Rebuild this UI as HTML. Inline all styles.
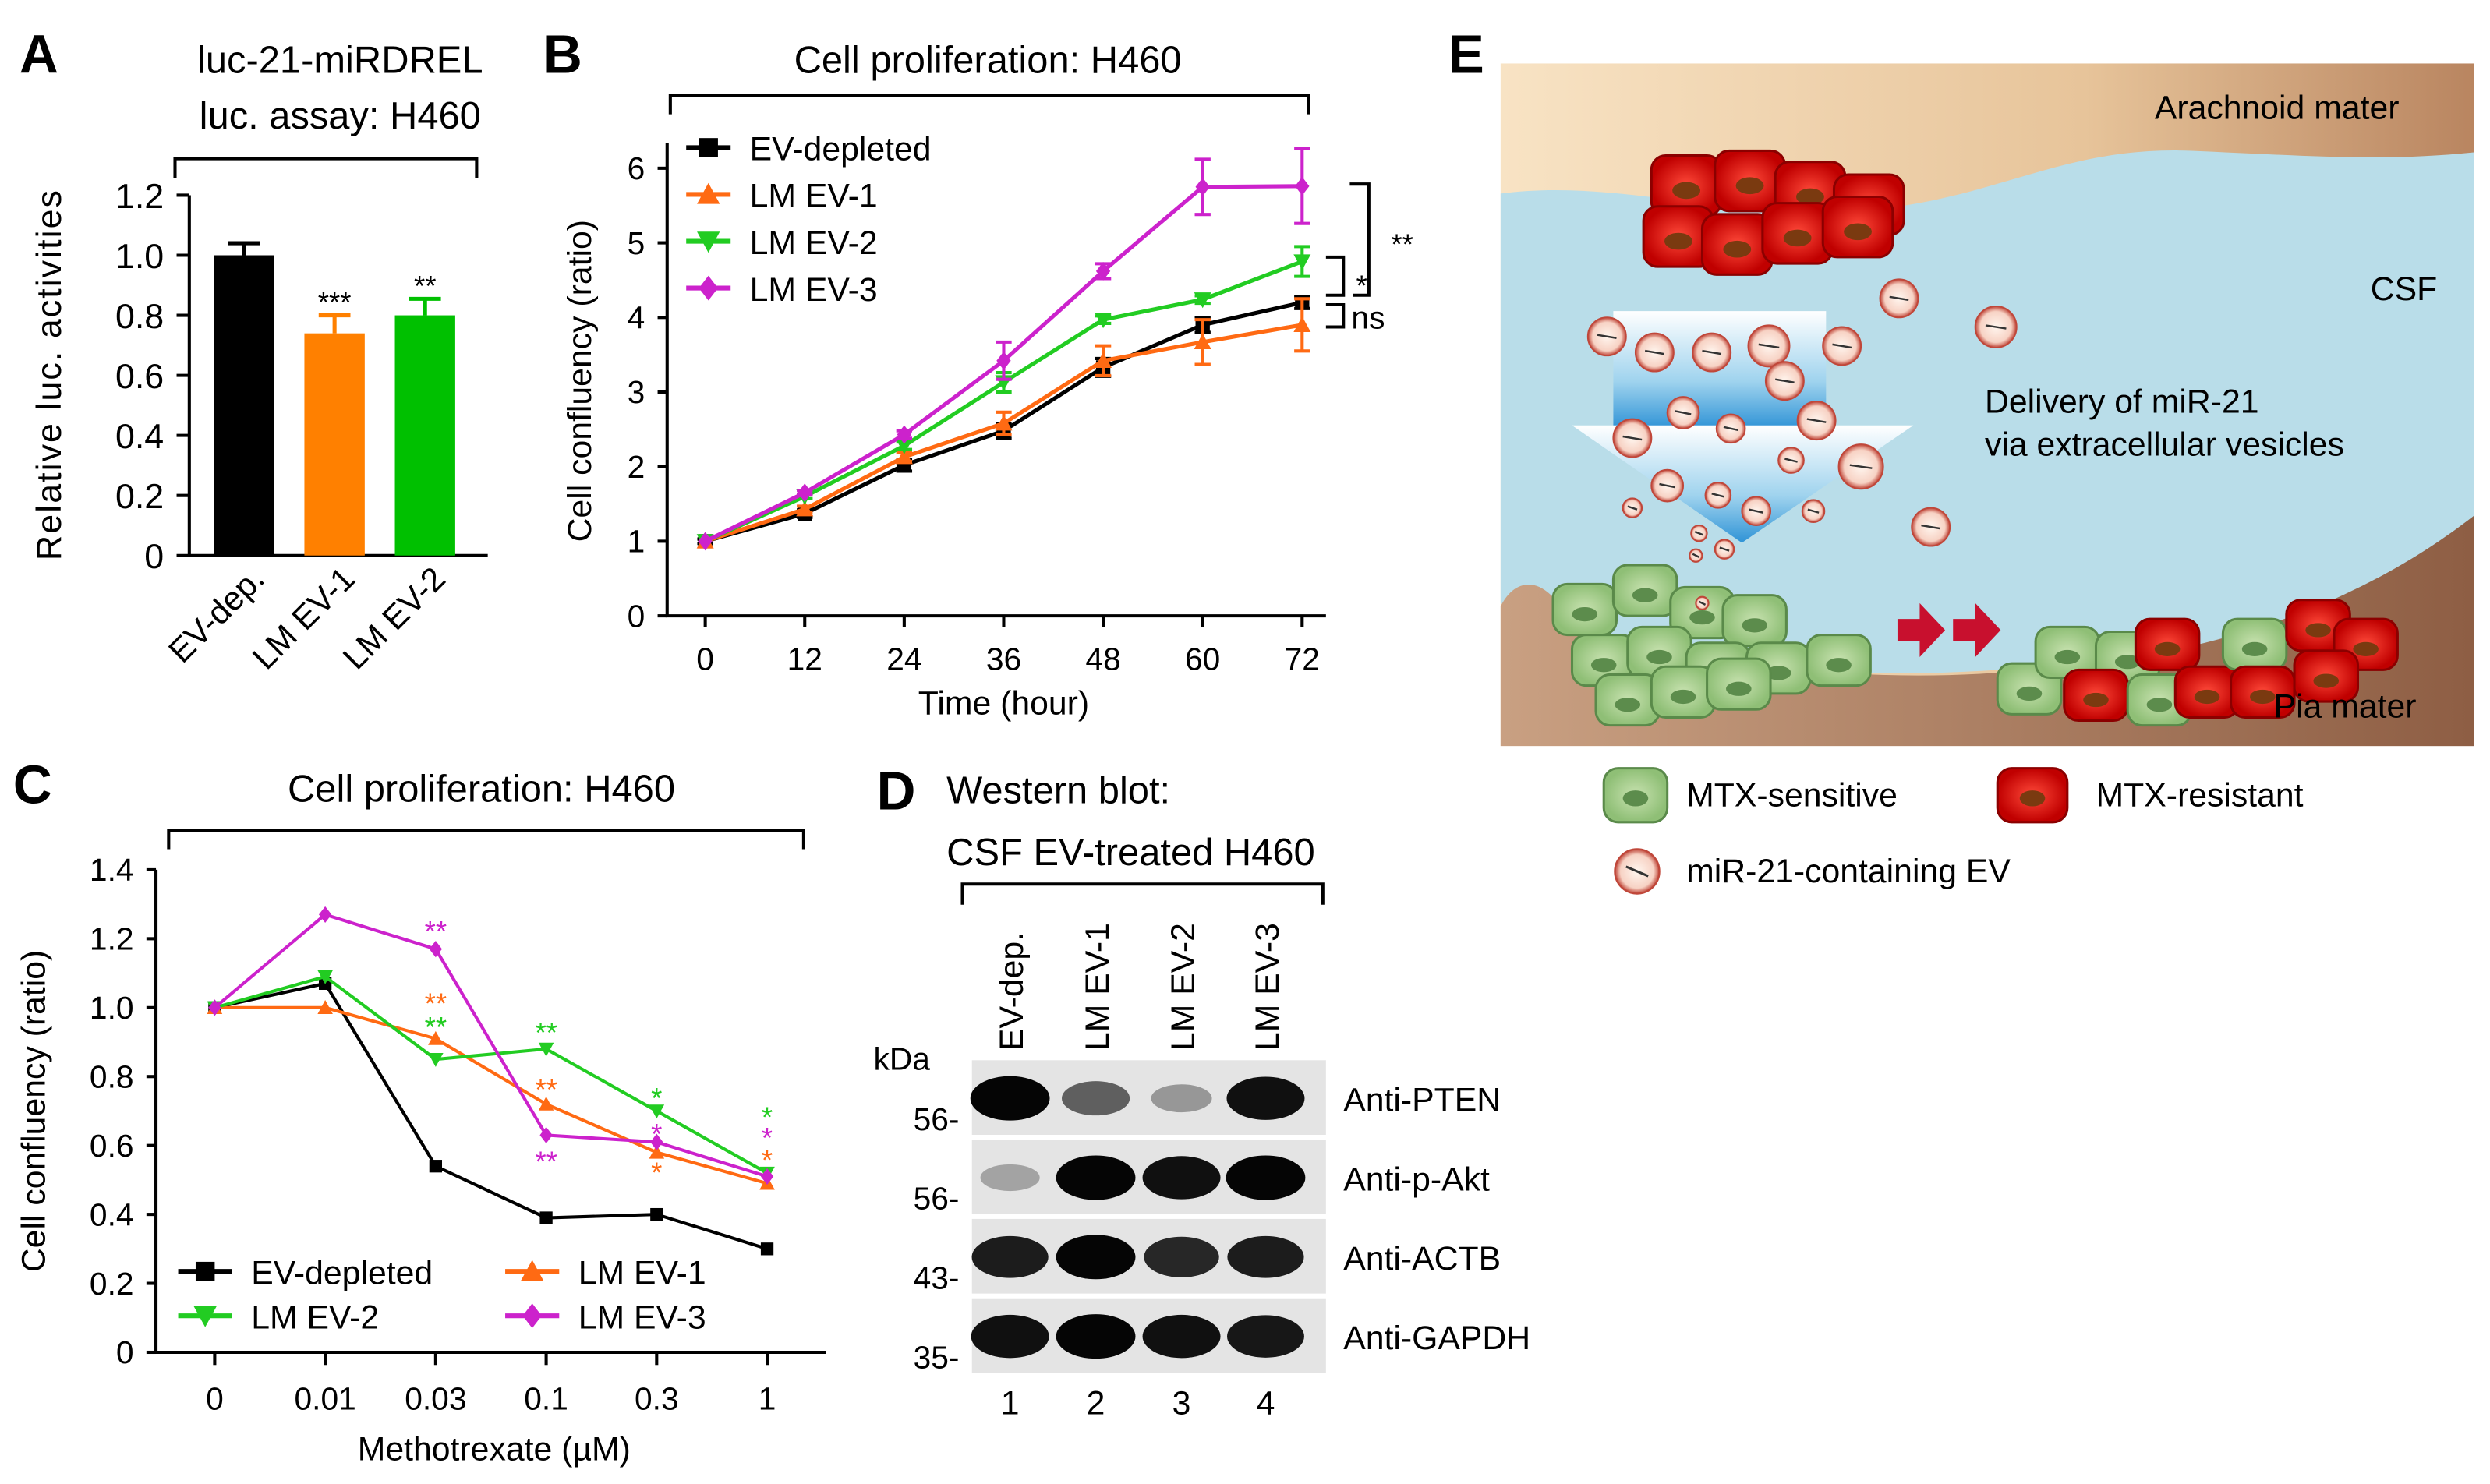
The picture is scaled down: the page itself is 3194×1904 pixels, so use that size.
<!DOCTYPE html>
<html><head><meta charset="utf-8"><style>
html,body{margin:0;padding:0;background:#fff}
svg{display:block;font-family:"Liberation Sans",Arial,sans-serif}
</style></head><body>
<svg id="fig" width="3194" height="1904" viewBox="0 0 1568 935" xmlns="http://www.w3.org/2000/svg">
<defs>
<linearGradient id="bgTop" x1="0" y1="0" x2="1" y2="0"><stop offset="0" stop-color="#f8e3c4"/><stop offset="0.6" stop-color="#e7c49a"/><stop offset="1" stop-color="#b98560"/></linearGradient>
<linearGradient id="pia" x1="0" y1="0" x2="1" y2="0"><stop offset="0" stop-color="#c9a082"/><stop offset="1" stop-color="#8e5e44"/></linearGradient>
<linearGradient id="arrowG" x1="0" y1="0" x2="0" y2="1"><stop offset="0" stop-color="#ffffff"/><stop offset="0.6" stop-color="#9fd3ee"/><stop offset="1" stop-color="#2f93d6"/></linearGradient>
<radialGradient id="evG"><stop offset="0" stop-color="#fff6ef"/><stop offset="0.75" stop-color="#f7d2c4"/><stop offset="1" stop-color="#c0473a"/></radialGradient>
<radialGradient id="redC"><stop offset="0" stop-color="#ff4a3a"/><stop offset="1" stop-color="#c00000"/></radialGradient>
<radialGradient id="grnC"><stop offset="0" stop-color="#c8e2b0"/><stop offset="1" stop-color="#8fbf76"/></radialGradient>
</defs>

<!-- Panel A -->
<g>
<text x="12" y="46" font-size="34" font-weight="bold">A</text>
<text x="214" y="46" font-size="24" text-anchor="middle">luc-21-miRDREL</text>
<text x="214" y="81" font-size="24" text-anchor="middle">luc. assay: H460</text>
<path d="M110,112 V100 H300 V112" fill="none" stroke="#000" stroke-width="2"/>
<g id="chartA"></g>
</g>

<!-- Panel B -->
<g>
<text x="342" y="46" font-size="34" font-weight="bold">B</text>
<text x="622" y="46" font-size="24" text-anchor="middle">Cell proliferation: H460</text>
<path d="M422,72 V60 H824 V72" fill="none" stroke="#000" stroke-width="2"/>
<g id="chartB"></g>
</g>

<!-- Panel C -->
<g>
<text x="8" y="506" font-size="34" font-weight="bold">C</text>
<text x="303" y="505" font-size="24" text-anchor="middle">Cell proliferation: H460</text>
<path d="M106,535 V523 H506 V535" fill="none" stroke="#000" stroke-width="2"/>
<g id="chartC"></g>
</g>

<!-- Panel D -->
<g>
<text x="552" y="510" font-size="34" font-weight="bold">D</text>
<text x="596" y="506" font-size="24">Western blot:</text>
<text x="596" y="545" font-size="24">CSF EV-treated H460</text>
<path d="M606,570 V557 H833 V570" fill="none" stroke="#000" stroke-width="2"/>
<g font-size="21">
<text transform="translate(644,662) rotate(-90)">EV-dep.</text>
<text transform="translate(698,662) rotate(-90)">LM EV-1</text>
<text transform="translate(752,662) rotate(-90)">LM EV-2</text>
<text transform="translate(805,662) rotate(-90)">LM EV-3</text>
</g>
<text x="550" y="674" font-size="20">kDa</text>
<g id="blots"></g>
<g font-size="21" text-anchor="middle">
<text x="636" y="891">1</text>
<text x="690" y="891">2</text>
<text x="744" y="891">3</text>
<text x="797" y="891">4</text>
</g>
</g>

<!-- Panel E -->
<g>
<text x="912" y="46" font-size="34" font-weight="bold">E</text>
<rect x="945" y="40" width="613" height="430" fill="url(#bgTop)"/>
<path d="M945,122 C1020,112 1090,140 1180,132 C1260,124 1300,92 1380,95 C1450,98 1500,102 1558,96 L1558,330 C1500,380 1440,410 1300,418 C1200,430 1100,425 990,398 L945,380 Z" fill="#b9dde9"/>
<path d="M945,470 L945,382 C955,362 975,362 990,395 C1100,425 1200,432 1300,420 C1420,408 1500,370 1558,325 L1558,470 Z" fill="url(#pia)"/>
<g>
<rect x="1016" y="196" width="134" height="74" fill="url(#arrowG)"/>
<path d="M990,268 L1205,268 L1097,342 Z" fill="url(#arrowG)"/>
</g>
<g id="cellsE"></g>
<g id="evsE"></g>
<path d="M1195,390 h14 v-10 l16,17 l-16,17 v-10 h-14 Z M1230,390 h14 v-10 l16,17 l-16,17 v-10 h-14 Z" fill="#c8102e"/>
<g font-size="21">
<text x="1357" y="75">Arachnoid mater</text>
<text x="1493" y="189">CSF</text>
<text x="1250" y="260">Delivery of miR-21</text>
<text x="1250" y="287">via extracellular vesicles</text>
<text x="1432" y="452">Pia mater</text>
<text x="1062" y="508">MTX-sensitive</text>
<text x="1320" y="508">MTX-resistant</text>
<text x="1062" y="556">miR-21-containing EV</text>
</g>
<g id="legendIcons"></g>
</g>
</svg>
<script>
// ---- Panel A data ----
const catsA = ["EV-dep.", "LM EV-1", "LM EV-2"];
const valsA = [1.0, 0.74, 0.80];
const errA = [0.04, 0.06, 0.055];
const sigA = ["", "***", "**"];
const colorsA = ["#000000", "#ff8000", "#00c000"];
const ticksA = [0, 0.2, 0.4, 0.6, 0.8, 1.0, 1.2];
const tickLabelsA = ["0", "0.2", "0.4", "0.6", "0.8", "1.0", "1.2"];

// ---- Panel B data ----
const hoursB = [0, 12, 24, 36, 48, 60, 72];
const ticksB = [0, 1, 2, 3, 4, 5, 6];
const namesB = ["EV-depleted", "LM EV-1", "LM EV-2", "LM EV-3"];
const evDepB = [1, 1.37, 2.02, 2.48, 3.33, 3.9, 4.2];
const lmEv1B = [1, 1.43, 2.13, 2.58, 3.42, 3.67, 3.9];
const lmEv2B = [1, 1.6, 2.28, 3.13, 3.97, 4.24, 4.75];
const lmEv3B = [1, 1.65, 2.43, 3.42, 4.62, 5.75, 5.76];
const evDepErrB = [0.03, 0.05, 0.08, 0.1, 0.12, 0.1, 0.08];
const lmEv1ErrB = [0, 0.04, 0.06, 0.15, 0.2, 0.3, 0.35];
const lmEv2ErrB = [0, 0.03, 0.05, 0.13, 0.05, 0.05, 0.2];
const lmEv3ErrB = [0, 0.03, 0.05, 0.25, 0.1, 0.37, 0.5];

// ---- Panel C data ----
const dosesC = ["0", "0.01", "0.03", "0.1", "0.3", "1"];
const ticksC = [0, 0.2, 0.4, 0.6, 0.8, 1.0, 1.2, 1.4];
const tickLabelsC = ["0", "0.2", "0.4", "0.6", "0.8", "1.0", "1.2", "1.4"];
const evDepC = [1, 1.07, 0.54, 0.39, 0.40, 0.30];
const lmEv1C = [1, 1.0, 0.91, 0.72, 0.58, 0.49];
const lmEv2C = [1, 1.09, 0.85, 0.88, 0.70, 0.52];
const lmEv3C = [1, 1.27, 1.17, 0.63, 0.61, 0.51];
const starIdxC = [2, 2, 2, 3, 3, 3, 4, 4, 4, 5, 5, 5];
const starSerC = [3, 1, 2, 2, 1, 3, 2, 3, 1, 2, 3, 1];
const starTxtC = ["**", "**", "**", "**", "**", "**", "*", "*", "*", "*", "*", "*"];

// ---- Panel D data (band intensities 0..1) ----
const blotNames = ["Anti-PTEN", "Anti-p-Akt", "Anti-ACTB", "Anti-GAPDH"];
const blotMarkers = ["56", "56", "43", "35"];
const pten = [1.0, 0.6, 0.35, 0.95];
const pakt = [0.3, 1.0, 0.95, 1.0];
const actb = [0.9, 1.0, 0.85, 0.9];
const gapdh = [0.95, 1.0, 0.95, 0.92];

const NS = "http://www.w3.org/2000/svg";
function mk(parent, tag, attrs, text) {
  const e = document.createElementNS(NS, tag);
  for (const k in attrs) e.setAttribute(k, attrs[k]);
  if (text !== undefined) e.textContent = text;
  parent.appendChild(e);
  return e;
}
function marker(g, shape, x, y, s, color) {
  let e;
  if (shape === "square") e = mk(g, "rect", {x: x - s, y: y - s, width: 2 * s, height: 2 * s, fill: color});
  else if (shape === "up") e = mk(g, "path", {d: `M${x},${y - s * 1.2} L${x + s * 1.2},${y + s} L${x - s * 1.2},${y + s} Z`, fill: color});
  else if (shape === "down") e = mk(g, "path", {d: `M${x},${y + s * 1.2} L${x + s * 1.2},${y - s} L${x - s * 1.2},${y - s} Z`, fill: color});
  else e = mk(g, "path", {d: `M${x},${y - s * 1.3} L${x + s},${y} L${x},${y + s * 1.3} L${x - s},${y} Z`, fill: color});
  return e;
}

// ===== Panel A =====
(function () {
  const g = document.getElementById("chartA");
  const yA = v => 350 - v / 1.2 * 227;
  const xA = i => 153.5 + i * 57;
  mk(g, "path", {d: "M119,123 V350 H307", fill: "none", stroke: "#000", "stroke-width": 2});
  ticksA.forEach((t, i) => {
    mk(g, "line", {x1: 111, x2: 119, y1: yA(t), y2: yA(t), stroke: "#000", "stroke-width": 2});
    const tl = mk(g, "text", {x: 103, y: yA(t) + 8, "font-size": 22, "text-anchor": "end"}, tickLabelsA[i]);
    
    
  });
  valsA.forEach((v, i) => {
    const cx = xA(i);
    const c = colorsA[i];
    mk(g, "line", {x1: cx, x2: cx, y1: yA(v), y2: yA(v + errA[i]), stroke: c, "stroke-width": 2.5});
    mk(g, "line", {x1: cx - 10, x2: cx + 10, y1: yA(v + errA[i]), y2: yA(v + errA[i]), stroke: c, "stroke-width": 2.5});
    const b = mk(g, "rect", {x: cx - 19, y: yA(v), width: 38, height: 350 - yA(v), fill: c});
    
    
    if (sigA[i]) {
      const s = mk(g, "text", {x: cx, y: yA(v + errA[i]) - 2, "font-size": 18, "text-anchor": "middle"}, sigA[i]);
      
      
    }
    const l = mk(g, "text", {transform: `translate(${cx + 14},${366}) rotate(-45)`, "font-size": 21, "text-anchor": "end"}, catsA[i]);
    
    
  });
  const yt = mk(g, "text", {transform: "translate(38,236) rotate(-90)", "font-size": 22, "text-anchor": "middle", "letter-spacing": "1"}, "Relative luc. activities");
  
  
})();

// ===== Panel B =====
(function () {
  const g = document.getElementById("chartB");
  const xB = h => 444 + h / 72 * 376;
  const yB = v => 388 - v / 6 * 282;
  mk(g, "path", {d: "M420,90 V388 H835", fill: "none", stroke: "#000", "stroke-width": 2});
  ticksB.forEach(t => {
    mk(g, "line", {x1: 414, x2: 420, y1: yB(t), y2: yB(t), stroke: "#000", "stroke-width": 2});
    const tl = mk(g, "text", {x: 406, y: yB(t) + 7, "font-size": 20, "text-anchor": "end"}, String(t));
    
    
  });
  hoursB.forEach(h => {
    mk(g, "line", {x1: xB(h), x2: xB(h), y1: 388, y2: 395, stroke: "#000", "stroke-width": 2});
    const tl = mk(g, "text", {x: xB(h), y: 422, "font-size": 20, "text-anchor": "middle"}, String(h));
    
    
  });
  const xt = mk(g, "text", {x: 632, y: 450, "font-size": 21, "text-anchor": "middle"}, "Time (hour)");
  
  
  const yt = mk(g, "text", {transform: "translate(372,240) rotate(-90)", "font-size": 21, "text-anchor": "middle"}, "Cell confluency (ratio)");
  
  
  const series = [[evDepB, evDepErrB, "#000000", "square"], [lmEv1B, lmEv1ErrB, "#ff6a13", "up"], [lmEv2B, lmEv2ErrB, "#22cc22", "down"], [lmEv3B, lmEv3ErrB, "#cc22cc", "diamond"]];
  series.forEach((s, si) => {
    const [vals, errs, c, shp] = s;
    const line = mk(g, "polyline", {points: vals.map((v, i) => `${xB(hoursB[i])},${yB(v)}`).join(" "), fill: "none", stroke: c, "stroke-width": 2.5});
    
    
    vals.forEach((v, i) => {
      const x = xB(hoursB[i]);
      if (errs[i] > 0) {
        mk(g, "path", {d: `M${x},${yB(v - errs[i])} V${yB(v + errs[i])} M${x - 5},${yB(v - errs[i])} H${x + 5} M${x - 5},${yB(v + errs[i])} H${x + 5}`, stroke: c, "stroke-width": 2, fill: "none"});
      }
      const m = marker(g, shp, x, yB(v), 4.5, c);
      
      
    });
    const ly = 93 + si * 29.5;
    mk(g, "line", {x1: 432, x2: 460, y1: ly, y2: ly, stroke: c, "stroke-width": 3});
    marker(g, shp, 446, ly, 6, c);
    const lt = mk(g, "text", {x: 472, y: ly + 8, "font-size": 21}, namesB[si]);
    
    
  });
  mk(g, "path", {d: "M835,162 H846 V186 H835 M850,116 H862 V186 H852 M835,192 H846 V206 H835", fill: "none", stroke: "#000", "stroke-width": 2});
  const s1 = mk(g, "text", {x: 876, y: 160, "font-size": 18}, "**");
  
  
  const s2 = mk(g, "text", {x: 854, y: 186, "font-size": 18}, "*");
  
  
  const s3 = mk(g, "text", {x: 851, y: 207, "font-size": 20}, "ns");
  
  
})();

// ===== Panel C =====
(function () {
  const g = document.getElementById("chartC");
  const xC = i => 135 + i * 69.6;
  const yC = v => 852 - v / 1.4 * 304;
  mk(g, "path", {d: "M98,548 V852 H520", fill: "none", stroke: "#000", "stroke-width": 2});
  ticksC.forEach((t, i) => {
    mk(g, "line", {x1: 92, x2: 98, y1: yC(t), y2: yC(t), stroke: "#000", "stroke-width": 2});
    const tl = mk(g, "text", {x: 84, y: yC(t) + 7, "font-size": 20, "text-anchor": "end"}, tickLabelsC[i]);
    
    
  });
  dosesC.forEach((d, i) => {
    mk(g, "line", {x1: xC(i), x2: xC(i), y1: 852, y2: 860, stroke: "#000", "stroke-width": 2});
    const tl = mk(g, "text", {x: xC(i), y: 888, "font-size": 20, "text-anchor": "middle"}, d);
    
    
  });
  const xt = mk(g, "text", {x: 311, y: 920, "font-size": 21, "text-anchor": "middle"}, "Methotrexate (µM)");
  
  
  const yt = mk(g, "text", {transform: "translate(28,700) rotate(-90)", "font-size": 21, "text-anchor": "middle"}, "Cell confluency (ratio)");
  
  
  const series = [[evDepC, "#000000", "square"], [lmEv1C, "#ff6a13", "up"], [lmEv2C, "#22cc22", "down"], [lmEv3C, "#cc22cc", "diamond"]];
  series.forEach((s, si) => {
    const [vals, c, shp] = s;
    const line = mk(g, "polyline", {points: vals.map((v, i) => `${xC(i)},${yC(v)}`).join(" "), fill: "none", stroke: c, "stroke-width": 2});
    
    
    vals.forEach((v, i) => {
      const m = marker(g, shp, xC(i), yC(v), 4, c);
      
      
    });
    const lx = si % 2 === 0 ? 112 : 318;
    const ly = si < 2 ? 801 : 829;
    mk(g, "line", {x1: lx, x2: lx + 34, y1: ly, y2: ly, stroke: c, "stroke-width": 3});
    marker(g, shp, lx + 17, ly, 6, c);
    const lt = mk(g, "text", {x: lx + 46, y: ly + 8, "font-size": 21}, namesB[si]);
    
    
  });
  // significance stars: vertical offset from the series point (px, layout only)
  const starOff = [-15, -26, -24, -14, -13, 13, -12, -9, 9, -39, -26, -12];
  const starRef = [3, 1, 2, 2, 1, 3, 2, 3, 1, 2, 2, 2];
  const cols = ["#000000", "#ff6a13", "#22cc22", "#cc22cc"];
  starIdxC.forEach((idx, k) => {
    const refVals = series[starRef[k]][0];
    const cy = yC(refVals[idx]) + starOff[k];
    const t = mk(g, "text", {x: xC(idx), y: cy + 10, "font-size": 18, fill: cols[starSerC[k]], "text-anchor": "middle"}, starTxtC[k]);
    
    
  });
})();

// ===== Panel D blots =====
(function () {
  const g = document.getElementById("blots");
  const rows = [pten, pakt, actb, gapdh];
  const lanes = [636, 690, 744, 797];
  rows.forEach((r, ri) => {
    const y0 = 668 + ri * 50;
    const bg = mk(g, "rect", {x: 612, y: y0, width: 223, height: 47, fill: "#e4e4e4"});
    
    
    r.forEach((v, li) => {
      const gray = Math.round(230 - v * 225);
      const b = mk(g, "ellipse", {cx: lanes[li], cy: y0 + 24, rx: 16 + v * 9, ry: 6 + v * 8, fill: `rgb(${gray},${gray},${gray})`});
      
      
    });
    const t = mk(g, "text", {x: 846, y: y0 + 32, "font-size": 21}, blotNames[ri]);
    
    
    const m = mk(g, "text", {x: 604, y: y0 + 44, "font-size": 20, "text-anchor": "end"}, blotMarkers[ri] + "-");
    
    
  });
})();

// ===== Panel E illustration =====
(function () {
  const g = document.getElementById("cellsE");
  function cell(x, y, w, h, red) {
    const c = mk(g, "rect", {x: x, y: y, width: w, height: h, rx: 9, fill: red ? "url(#redC)" : "url(#grnC)", stroke: red ? "#8b0000" : "#5a8a4a", "stroke-width": 1.5});
    
    
    mk(g, "ellipse", {cx: x + w / 2, cy: y + h / 2 + 3, rx: w * 0.2, ry: h * 0.14, fill: red ? "#7a3a10" : "#5c8c4c"});
  }
  const redTop = [[1040, 98], [1080, 95], [1118, 102], [1155, 110], [1035, 130], [1072, 135], [1110, 128], [1148, 124]];
  redTop.forEach(p => cell(p[0], p[1], 44, 38, true));
  const greenL = [[978, 368], [1016, 356], [1052, 370], [1085, 375], [990, 400], [1025, 395], [1062, 405], [1100, 405], [1138, 400], [1005, 425], [1040, 420], [1075, 415]];
  greenL.forEach(p => cell(p[0], p[1], 40, 32, false));
  const mixR = [[1258, 418, 0], [1282, 395, 0], [1320, 398, 0], [1345, 390, 1], [1300, 422, 1], [1340, 425, 0], [1370, 420, 1], [1400, 390, 0], [1440, 378, 1], [1470, 390, 1], [1405, 420, 1], [1445, 410, 1]];
  mixR.forEach(p => cell(p[0], p[1], 40, 32, p[2] === 1));
  const ev = document.getElementById("evsE");
  const evs = [[1012, 212, 12], [1042, 222, 12], [1078, 222, 12], [1114, 218, 13], [1160, 218, 12], [1124, 240, 12], [1028, 276, 12], [1060, 260, 10], [1090, 270, 9], [1128, 290, 8], [1144, 265, 12], [1172, 294, 14], [1050, 306, 10], [1082, 312, 8], [1106, 322, 9], [1142, 322, 7], [1028, 320, 6], [1070, 336, 5], [1086, 346, 6], [1196, 188, 12], [1257, 206, 13], [1216, 332, 12], [1068, 350, 4], [1072, 380, 4]];
  evs.forEach(e => {
    const c = mk(ev, "circle", {cx: e[0], cy: e[1], r: e[2], fill: "url(#evG)", stroke: "#c0473a", "stroke-width": 1});
    
    
    mk(ev, "line", {x1: e[0] - e[2] * 0.5, y1: e[1] - 1, x2: e[0] + e[2] * 0.5, y2: e[1] + 1, stroke: "#333", "stroke-width": 1.2});
  });
  const li = document.getElementById("legendIcons");
  const a = mk(li, "rect", {x: 1010, y: 484, width: 40, height: 34, rx: 9, fill: "url(#grnC)", stroke: "#5a8a4a", "stroke-width": 1.5});
  
  
  mk(li, "ellipse", {cx: 1030, cy: 503, rx: 8, ry: 5, fill: "#5c8c4c"});
  const b = mk(li, "rect", {x: 1258, y: 484, width: 44, height: 34, rx: 9, fill: "url(#redC)", stroke: "#8b0000", "stroke-width": 1.5});
  
  
  mk(li, "ellipse", {cx: 1280, cy: 503, rx: 8, ry: 5, fill: "#7a3a10"});
  const c = mk(li, "circle", {cx: 1031, cy: 549, r: 14, fill: "url(#evG)", stroke: "#c0473a", "stroke-width": 1.2});
  
  
  mk(li, "line", {x1: 1024, y1: 546, x2: 1038, y2: 552, stroke: "#333", "stroke-width": 1.5});
})();
</script>
</body></html>
